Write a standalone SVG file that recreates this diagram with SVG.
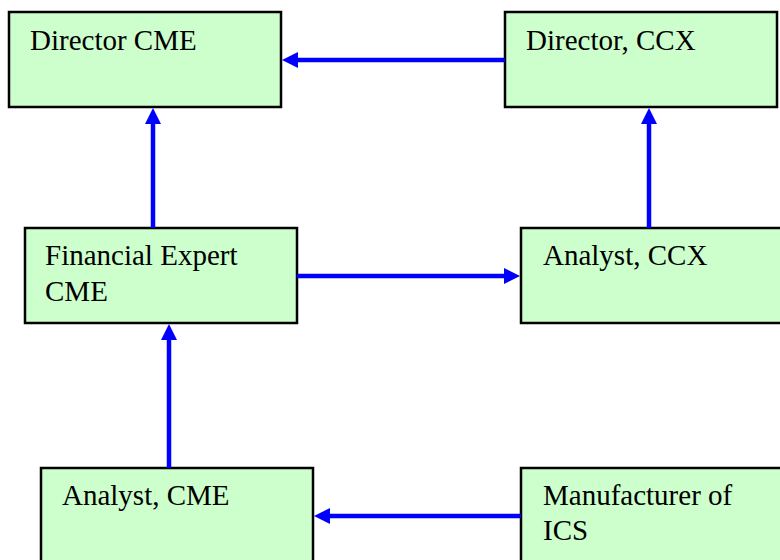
<svg xmlns="http://www.w3.org/2000/svg" width="780" height="560" viewBox="0 0 780 560">
<style>
.box{fill:#CCFFCC;stroke:#000;stroke-width:2.5}
.lbl{font-family:"Liberation Serif","Times New Roman",serif;font-size:29px;fill:#000}
.con{stroke:#0000FF;stroke-width:4.5;fill:none}
.head{fill:#0000FF}
</style>
<rect width="780" height="560" fill="#fff"/>
<g id="n-director-cme"><rect class="box" x="9" y="12" width="272" height="95"/><text class="lbl" x="30" y="50">Director CME</text></g>
<g id="n-director-ccx"><rect class="box" x="505" y="12" width="272" height="95"/><text class="lbl" x="526" y="50">Director, CCX</text></g>
<g id="n-financial-expert"><rect class="box" x="25" y="228" width="272" height="95"/><text class="lbl" x="45" y="265">Financial Expert</text><text class="lbl" x="45" y="301">CME</text></g>
<g id="n-analyst-ccx"><rect class="box" x="521" y="228" width="272" height="95"/><text class="lbl" x="543" y="265">Analyst, CCX</text></g>
<g id="n-analyst-cme"><rect class="box" x="41" y="468" width="272" height="100"/><text class="lbl" x="62" y="505">Analyst, CME</text></g>
<g id="n-manufacturer"><rect class="box" x="521" y="468" width="272" height="100"/><text class="lbl" x="543" y="505">Manufacturer of</text><text class="lbl" x="543" y="540">ICS</text></g>
<g id="connectors">
<line class="con" x1="505" y1="60" x2="296" y2="60"/><polygon class="head" points="282,60 298,52 298,68"/>
<line class="con" x1="153" y1="228" x2="153" y2="122"/><polygon class="head" points="153,108 145,124 161,124"/>
<line class="con" x1="649" y1="228" x2="649" y2="122"/><polygon class="head" points="649,108 641,124 657,124"/>
<line class="con" x1="297" y1="276" x2="506" y2="276"/><polygon class="head" points="520,276 504,268 504,284"/>
<line class="con" x1="169" y1="468" x2="169" y2="338"/><polygon class="head" points="169,324 161,340 177,340"/>
<line class="con" x1="521" y1="516" x2="328" y2="516"/><polygon class="head" points="314,516 330,508 330,524"/>
</g>
</svg>
